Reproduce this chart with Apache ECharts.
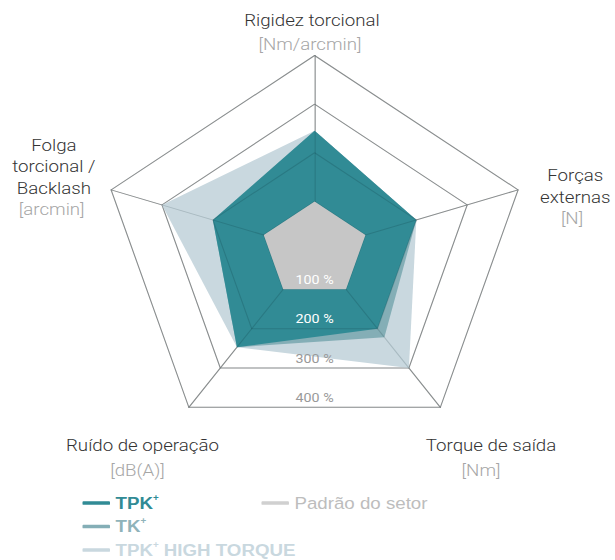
<!DOCTYPE html>
<html>
<head>
<meta charset="utf-8">
<script src="https://cdn.jsdelivr.net/npm/echarts@6/dist/echarts.min.js"></script>
<style>
  html, body { margin: 0; padding: 0; background: #fff; overflow: hidden; }
  #wrap { width: 615px; height: 560px; overflow: hidden; }
  /* the chart is laid out narrower and stretched to the wide format */
  #chart { width: 559.09px; height: 620px; transform: scaleX(1.1); transform-origin: 0 0; }
</style>
</head>
<body>
<div id="wrap"><div id="chart"></div></div>
<script>
// Axes, counter-clockwise from the top
const indicatorNames = ['Rigidez torcional', 'Folga\ntorcional /\nBacklash', 'Ruído de operação', 'Torque de saída', 'Forças\nexternas'];
const indicatorUnits = ['[Nm/arcmin]', '[arcmin]', '[dB(A)]', '[Nm]', '[N]'];
const scaleMax = 400;
const ringTicks = [100, 200, 300, 400];
const ringLabels = ['100 %', '200 %', '300 %', '400 %'];

// Performance relative to the industry standard, in %
const seriesNames = ['TPK+ HIGH TORQUE', 'TK+', 'TPK+', 'Padrão do setor'];
const tpkHighTorque = [245, 300, 247, 300, 200];
const tk = [245, 200, 247, 222, 200];
const tpk = [245, 200, 247, 200, 200];
const industryStandard = [100, 100, 100, 100, 100];

const colors = {
  'TPK+ HIGH TORQUE': '#c9d8df',
  'TK+': '#84aeb6',
  'TPK+': '#318b95',
  'Padrão do setor': '#c6c6c6'
};
const legendText = {
  'TPK+ HIGH TORQUE': '#c9d8df',
  'TK+': '#8fb3ba',
  'TPK+': '#318b95',
  'Padrão do setor': '#bdbdbd'
};

const CX = 286, CY = 250, R = 194.5;
const FONT = 'Roboto, "Liberation Sans", sans-serif';

const radarBase = {
  center: [CX, CY],
  radius: R,
  startAngle: 90,
  splitNumber: ringTicks.length,
  shape: 'polygon',
  indicator: indicatorNames.map(n => ({ name: n, min: 0, max: scaleMax })),
  axisName: { show: false },
  splitArea: { show: false }
};

const chart = echarts.init(document.getElementById('chart'), null, { renderer: 'svg' });

function radarSeries(name, values, z) {
  return {
    type: 'radar',
    name: name,
    radarIndex: 0,
    z: z,
    symbol: 'none',
    silent: true,
    lineStyle: { width: 1, color: colors[name], opacity: 0 },
    itemStyle: { color: colors[name] },
    areaStyle: { color: colors[name], opacity: 1 },
    data: [{ name: name, value: values, itemStyle: { color: colors[name] } }]
  };
}

// Axis titles, one block per indicator
const nameLayout = [
  { x: 283.6, y: 20, lh: 24, ux: 281.8 },
  { x: 49, y: 145, lh: 21.3, ux: 47 },
  { x: 129.5, y: 445, lh: 25, ux: 125 },
  { x: 446.4, y: 445, lh: 25, ux: 437.3 },
  { x: 523, y: 175, lh: 21.5, ux: 520 }
];
const graphics = [];
indicatorNames.forEach((name, i) => {
  const L = nameLayout[i];
  const lines = name.split('\n');
  lines.forEach((line, j) => {
    graphics.push({
      type: 'text', x: L.x, y: L.y + j * L.lh, z: 10, silent: true,
      style: { text: line, fill: '#333333', font: '300 17px ' + FONT, align: 'center', verticalAlign: 'middle' }
    });
  });
  graphics.push({
    type: 'text', x: L.ux, y: L.y + lines.length * L.lh, z: 10, silent: true,
    style: { text: indicatorUnits[i], fill: '#a6a6a6', font: '300 17px ' + FONT, align: 'center', verticalAlign: 'middle' }
  });
});

// Ring values, just above the bottom edge of each ring
const ringColors = ['#ffffff', '#ffffff', '#999999', '#999999'];
ringTicks.forEach((v, i) => {
  const r = R * v / scaleMax;
  graphics.push({
    type: 'text', x: CX, y: CY + r * Math.cos(Math.PI / 5) - 10, z: 10, silent: true,
    style: { text: ringLabels[i], fill: ringColors[i], font: '13px ' + FONT, align: 'center', verticalAlign: 'middle' }
  });
});

const legendCommon = {
  orient: 'vertical',
  top: 488,
  itemWidth: 25,
  itemHeight: 3.5,
  itemGap: 3.5,
  icon: 'roundRect',
  selectedMode: false,
  formatter: name => name.replace('+', '{sup|+}'),
  textStyle: {
    fontFamily: '"Liberation Sans", Arial, sans-serif',
    fontSize: 17,
    lineHeight: 20,
    fontWeight: 'bold',
    rich: { sup: { fontSize: 9, fontWeight: 'bold', verticalAlign: 'top', lineHeight: 12 } }
  }
};

chart.setOption({
  animation: false,
  radar: [
    Object.assign({}, radarBase, {
      z: 0,
      splitLine: { lineStyle: { color: '#a3a3a3', width: 1 } },
      axisLine: { lineStyle: { color: '#a3a3a3', width: 1 } }
    }),
    Object.assign({}, radarBase, {
      z: 3,
      splitLine: { lineStyle: { color: 'rgba(0,30,40,0.16)', width: 1 } },
      axisLine: { lineStyle: { color: 'rgba(0,30,40,0.16)', width: 1 } }
    })
  ],
  legend: [
    Object.assign({}, legendCommon, {
      left: 70,
      data: ['TPK+', 'TK+', 'TPK+ HIGH TORQUE'].map(n => ({
        name: n, itemStyle: { color: colors[n] }, textStyle: { color: legendText[n] }
      }))
    }),
    Object.assign({}, legendCommon, {
      left: 232.7,
      formatter: name => name,
      data: [{
        name: 'Padrão do setor',
        itemStyle: { color: '#d0d0d0' },
        textStyle: { color: legendText['Padrão do setor'], fontWeight: 'normal' }
      }]
    })
  ],
  series: [
    radarSeries(seriesNames[0], tpkHighTorque, 2),
    radarSeries(seriesNames[1], tk, 2),
    radarSeries(seriesNames[2], tpk, 2),
    radarSeries(seriesNames[3], industryStandard, 4)
  ],
  graphic: { elements: graphics }
});
</script>
</body>
</html>
